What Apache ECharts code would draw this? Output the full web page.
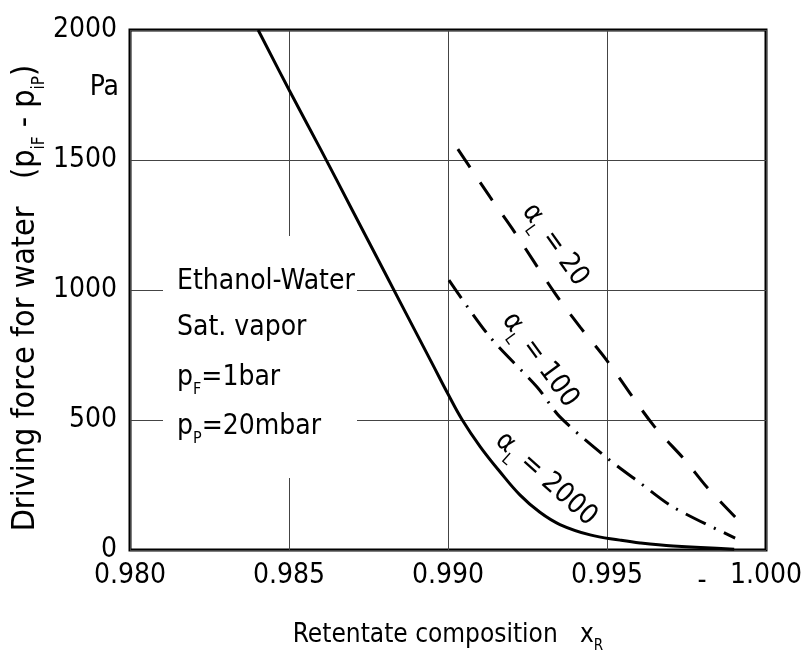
<!DOCTYPE html>
<html>
<head>
<meta charset="utf-8">
<script src="https://cdn.jsdelivr.net/npm/echarts@6/dist/echarts.min.js"></script>
<style>
  html, body { margin: 0; padding: 0; background: #fff; }
  #chart { width: 802px; height: 655px; }
</style>
</head>
<body>
<div id="chart"></div>
<script>
// [x_R, driving force in Pa]
var alpha2000 = [[0.98403, 2000], [0.9850, 1770], [0.9860, 1540], [0.9870, 1305], [0.9880, 1070],
  [0.9890, 835], [0.9895, 718], [0.9900, 600], [0.99044, 502], [0.99101, 398], [0.99164, 300],
  [0.99226, 212], [0.99289, 145], [0.99352, 98], [0.99447, 58], [0.99541, 38], [0.99604, 27],
  [0.99708, 15], [0.9990, 3]];
var alpha20 = [[0.99031, 1542], [0.99132, 1358], [0.99201, 1238], [0.99336, 988], [0.99415, 858],
  [0.99494, 738], [0.99645, 481], [0.99745, 346], [0.99814, 242], [0.99903, 127]];
var alpha100 = [[0.99003, 1038], [0.99132, 819], [0.99280, 627], [0.99352, 512], [0.99500, 354],
  [0.99604, 258], [0.99708, 165], [0.99903, 46]];
var infoLines = ['Ethanol-Water', 'Sat. vapor', '{t|p}{s|F}{t|=1bar}', '{t|p}{s|P}{t|=20mbar}'];

var font = '"Liberation Sans Narrow", "DejaVu Sans Condensed", sans-serif';
var rich = {
  t: { fontSize: 28, fontFamily: font, color: '#000', lineHeight: 40 },
  s: { fontSize: 16, fontFamily: font, color: '#000', verticalAlign: 'bottom', lineHeight: 16 }
};
var richX = {
  t: { fontSize: 26, fontFamily: font, color: '#000', lineHeight: 38 },
  s: { fontSize: 15, fontFamily: font, color: '#000', verticalAlign: 'bottom', lineHeight: 15 }
};
var richY = {
  t: { fontSize: 32, fontFamily: font, color: '#000', lineHeight: 44 },
  s: { fontSize: 17, fontFamily: font, color: '#000', verticalAlign: 'bottom', lineHeight: 17 }
};

function curveLabel(txt, x, y, rot) {
  return {
    type: 'text', x: x, y: y, rotation: rot, z: 5,
    style: { text: '{t|α}{s|L}{t| = ' + txt + '}', rich: rich, align: 'center', verticalAlign: 'middle' }
  };
}

var chart = echarts.init(document.getElementById('chart'));
var graphics = [
  { type: 'rect', shape: { x: 163, y: 236, width: 194, height: 242 }, style: { fill: '#fff' }, z: 1 },
  { type: 'text', x: 119, y: 88, z: 5,
    style: { text: 'Pa', fontSize: 28, fontFamily: font, fill: '#000', align: 'right', verticalAlign: 'middle' } },
  { type: 'text', x: 702, y: 582, z: 5,
    style: { text: '-', fontSize: 28, fontFamily: font, fill: '#000', align: 'center', verticalAlign: 'middle' } },
  curveLabel('20', 555, 245, -0.95),
  curveLabel('100', 540, 360, -0.94),
  curveLabel('2000', 546, 479, -0.73)
];
var infoY = [282, 328, 378, 427];
infoLines.forEach(function (s, i) {
  graphics.push({ type: 'text', x: 177, y: infoY[i], z: 5,
    style: { text: s.indexOf('{') < 0 ? '{t|' + s + '}' : s, rich: rich, align: 'left', verticalAlign: 'middle' } });
});

chart.setOption({
  animation: false,
  backgroundColor: '#fff',
  grid: { left: 130, right: 36, top: 30, bottom: 105, show: true, borderColor: '#000', borderWidth: 3,
    containLabel: false, outerBoundsMode: 'none' },
  xAxis: {
    type: 'value', min: 0.98, max: 1.0, interval: 0.005,
    name: '{t|Retentate composition   x}{s|R}',
    nameLocation: 'middle', nameGap: 66, nameMoveOverlap: false,
    nameTextStyle: { rich: richX },
    axisLine: { show: false }, axisTick: { show: false },
    axisLabel: { fontSize: 28, fontFamily: font, color: '#000', margin: 12,
      formatter: function (v) { return v.toFixed(3); } },
    splitLine: { lineStyle: { color: '#444', width: 1 } }
  },
  yAxis: {
    type: 'value', min: 0, max: 2000, interval: 500,
    name: '{t|Driving force for water   (p}{s|iF}{t| - p}{s|iP}{t|)}',
    nameLocation: 'middle', nameGap: 82, nameRotate: 90, nameMoveOverlap: false,
    nameTextStyle: { rich: richY, padding: [0, 16, 0, 0] },
    axisLine: { show: false }, axisTick: { show: false },
    axisLabel: { fontSize: 28, fontFamily: font, color: '#000', margin: 13,
      formatter: function (v) { return String(v); } },
    splitLine: { lineStyle: { color: '#444', width: 1 } }
  },
  graphic: graphics,
  series: [
    { type: 'line', data: alpha2000, smooth: 0.4, symbol: 'none', z: 3,
      lineStyle: { color: '#000', width: 3 } },
    { type: 'line', data: alpha20, smooth: 0.3, symbol: 'none', z: 3,
      lineStyle: { color: '#000', width: 3, type: [22, 18] } },
    { type: 'line', data: alpha100, smooth: 0.3, symbol: 'none', z: 3,
      lineStyle: { color: '#000', width: 3, type: [22, 9, 2, 9] } }
  ]
});
</script>
</body>
</html>
